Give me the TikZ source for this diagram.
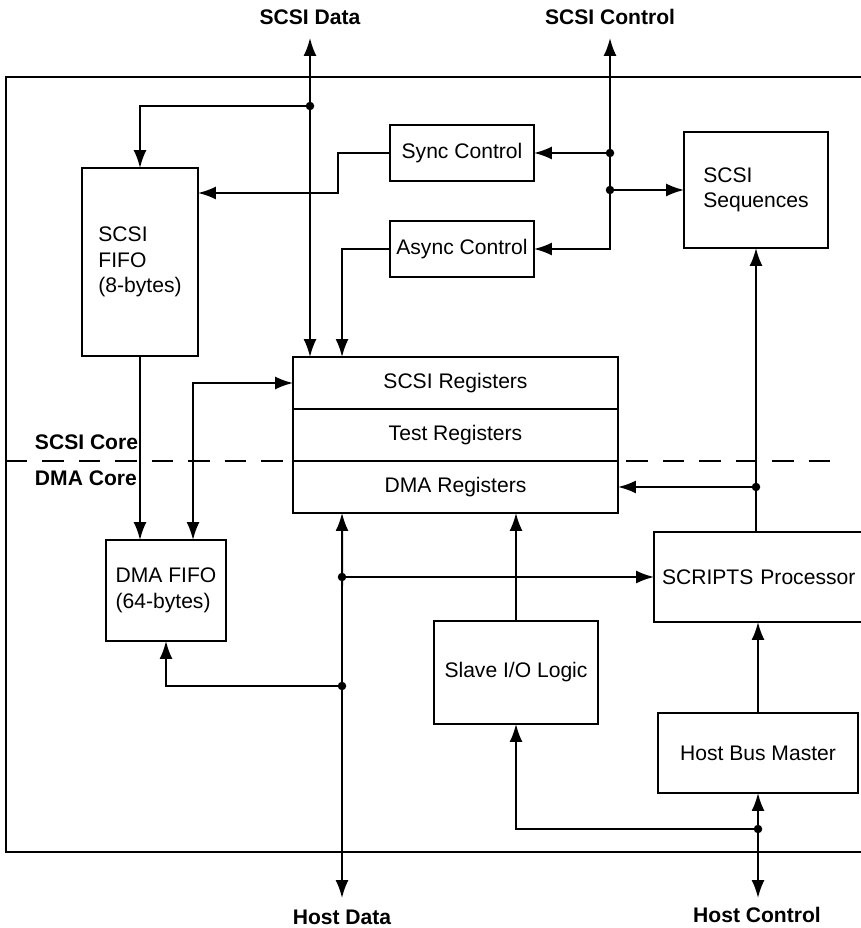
\documentclass[tikz,border=0pt]{standalone}
\usepackage{fontspec}
\setmainfont{Liberation Sans}
\usetikzlibrary{positioning,arrows.meta,calc}

\begin{document}
\begin{tikzpicture}[
    x=0.02cm, y=-0.02cm,
    line width=1.1pt,
    block/.style = {
        rectangle,
        draw=black,
        line width=1.1pt,
        inner sep=0pt,
        outer sep=0pt,
        align=center,
        font=\fontsize{12}{14.5}\selectfont
    },
    regbox/.style = {
        block,
        minimum width=6.5cm,
        minimum height=1.04cm
    },
    ctrlbox/.style = {
        block,
        minimum width=2.88cm,
        minimum height=1.12cm
    },
    buslabel/.style = {
        inner sep=0pt,
        font=\bfseries\fontsize{12}{14.5}\selectfont
    },
    arrow/.style = {
        -{Latex[length=3.6mm,width=2.6mm]}
    },
    twoway/.style = {
        {Latex[length=3.6mm,width=2.6mm]}-{Latex[length=3.6mm,width=2.6mm]}
    }
]
\useasboundingbox (0,0) rectangle (860,928);

\draw (880,77) -- (6,77) -- (6,852) -- (880,852);
\draw [dash pattern=on 0.43cm off 0.3cm] (6,461) -- (845,461);

\node (fifos) [block, minimum width=2.32cm, minimum height=3.76cm, align=left] at (140,262) {SCSI\\FIFO\\(8-bytes)};

\node (sync) [ctrlbox] at (462,153) {Sync Control};

\node (async) [ctrlbox] at (462,249) {Async Control};

\node (seq) [block, minimum width=2.88cm, minimum height=2.32cm, align=left] at (756,190) {SCSI\\Sequences};

\node (scsiregs) [regbox] at (455.5,383) {SCSI Registers};

\node (testregs) [regbox, below=0pt of scsiregs] {Test Registers};

\node (dmaregs) [regbox, below=0pt of testregs] {DMA Registers};

\node (dmafifo) [block, minimum width=2.4cm, minimum height=2.02cm, align=left] at (166,590.5) {DMA FIFO\\(64-bytes)};

\node (scripts) [block, minimum width=4.4cm, minimum height=1.8cm, text width=4.08cm, align=left, xshift=0.16cm] at (756,577) {SCRIPTS Processor};

\node (slave) [block, minimum width=3.28cm, minimum height=2.06cm] at (516,672.5) {Slave I/O Logic};

\node (hbm) [block, minimum width=4cm, minimum height=1.6cm] at (758,753) {Host Bus Master};

\node (sdlabel) [buslabel] at (310,17) {SCSI Data};
\node (sclabel) [buslabel] at (610,17) {SCSI Control};
\node (hdlabel) [buslabel] at (342,917) {Host Data};
\node (hclabel) [buslabel] at (757,915) {Host Control};
\node (scsicore) [buslabel, anchor=west] at (34,442) {SCSI Core};
\node (dmacore) [buslabel, anchor=west] at (34,478) {DMA Core};

\coordinate (sdtop) at (310,38);
\coordinate (sctop) at (610,38);
\coordinate (hdbot) at (342,898);
\coordinate (hcbot) at (758,898);
\coordinate (syncbend) at (338,193);

\coordinate (sddot) at (310,106);
\coordinate (scdot1) at (sctop |- sync.east);
\coordinate (scdot2) at (sctop |- seq.west);
\coordinate (spdot) at (seq.south |- dmaregs.east);
\coordinate (hddot1) at (hdbot |- scripts.west);
\coordinate (hddot2) at (342,686);
\coordinate (hcdot) at (758,829);

\draw [twoway] (sdtop) -- (sdtop |- scsiregs.north);
\draw [arrow] (sddot) -| (fifos.north);
\draw [arrow] (sync.west) -| (syncbend) -- (syncbend -| fifos.east);
\draw [arrow] (async.west) -| ($(scsiregs.north west)+(49,0)$);
\draw [twoway] (sctop) |- (async.east);
\draw [arrow] (scdot1) -- (sync.east);
\draw [arrow] (scdot2) -- (seq.west);
\draw [arrow] (seq.south |- scripts.north) -- (seq.south);
\draw [arrow] (spdot) -- (dmaregs.east);
\draw [arrow] (fifos.south) -- (fifos.south |- dmafifo.north);
\draw [twoway] (scsiregs.west) -| ($(dmafifo.north west)+(87,0)$);
\draw [twoway] ($(dmaregs.south west)+(49,0)$) -- (hdbot);
\draw [arrow] (hddot1) -- (scripts.west);
\draw [arrow] (hddot2) -| (dmafifo.south);
\draw [arrow] (slave.north) -- (slave.north |- dmaregs.south);
\draw [arrow] (hbm.north) -- (hbm.north |- scripts.south);
\draw [twoway] (hbm.south) -- (hcbot);
\draw [arrow] (hcdot) -| (slave.south);

\foreach \j in {sddot,scdot1,scdot2,spdot,hddot1,hddot2,hcdot}
    \fill (\j) circle (0.085cm);

\end{tikzpicture}
\end{document}
